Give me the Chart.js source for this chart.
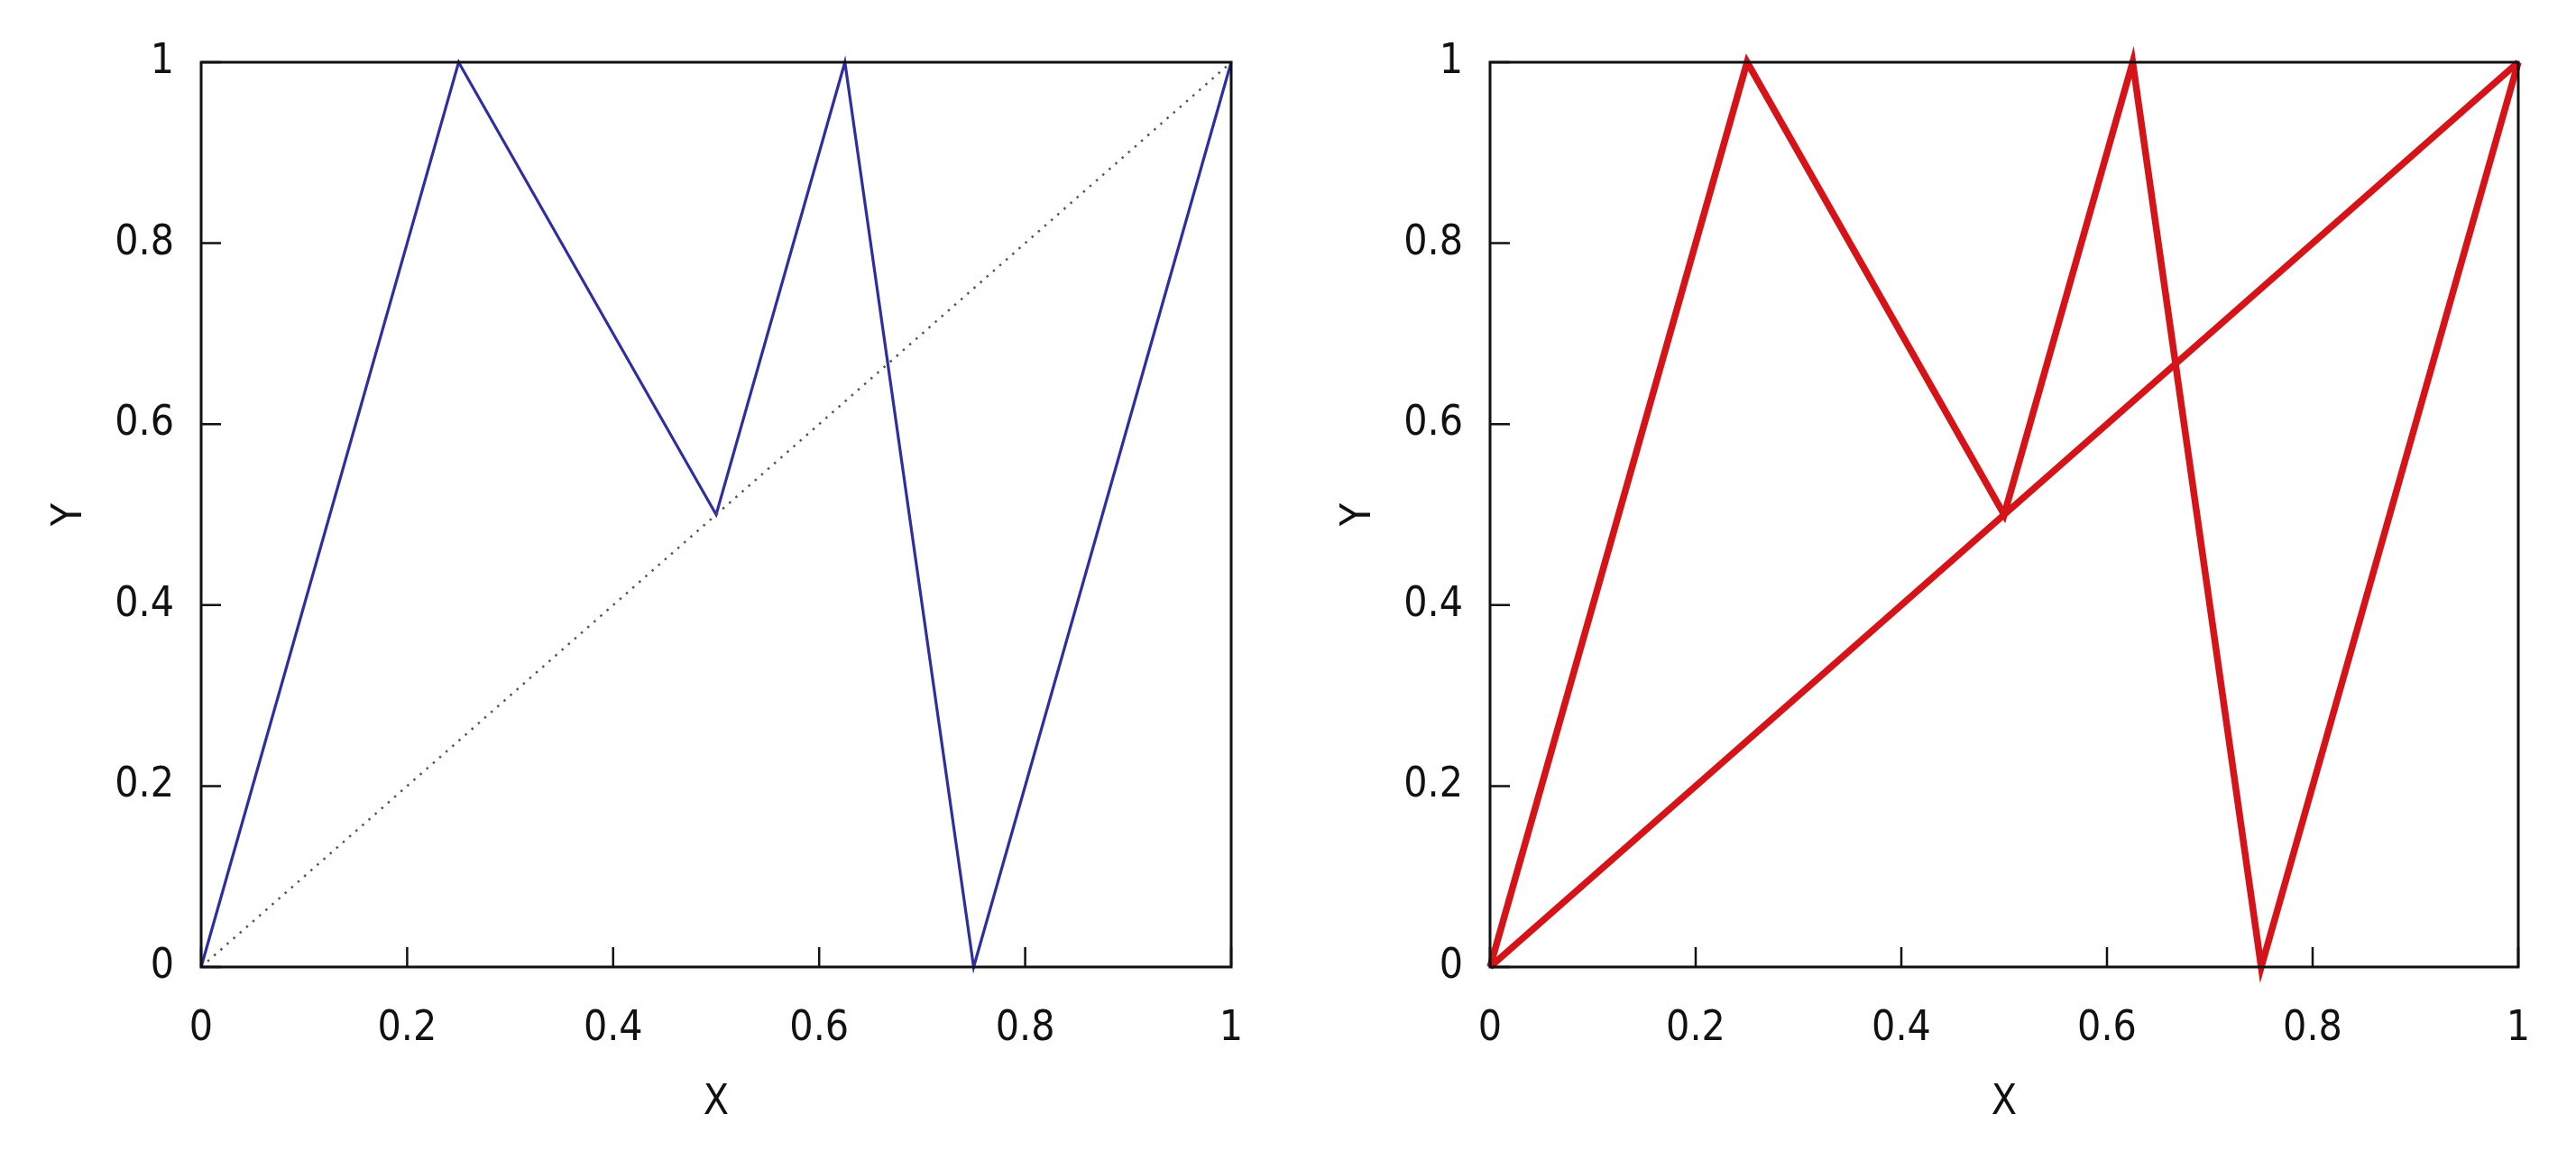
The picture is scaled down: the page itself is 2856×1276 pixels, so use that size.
<!DOCTYPE html>
<html>
<head>
<meta charset="utf-8">
<script src="https://cdn.jsdelivr.net/npm/chart.js@4.4.1/dist/chart.umd.min.js"></script>
<style>
  html, body { margin: 0; padding: 0; background: #fff; }
  .panel { position: absolute; top: 0; width: 1428px; height: 1276px; }
  #left { left: 0; }
  #right { left: 1428px; }
</style>
</head>
<body>
<div class="panel" id="left"><canvas id="chartLeft"></canvas></div>
<div class="panel" id="right"><canvas id="chartRight"></canvas></div>
<script>
// the map and the identity diagonal
const pathX = [0, 0.25, 0.5, 0.625, 0.75, 1];
const pathY = [0, 1, 0.5, 1, 0, 1];
const diagX = [0, 1];
const diagY = [0, 1];
const tickValues = [0, 0.2, 0.4, 0.6, 0.8, 1];
const tickLabels = ['0', '0.2', '0.4', '0.6', '0.8', '1'];

const FONT = "'Liberation Sans Narrow', 'DejaVu Sans Condensed', sans-serif";

function toPoints(xs, ys) {
    return xs.map((x, i) => ({ x: x, y: ys[i] }));
}

// Frame box plus inward ticks on the bottom and left axes (gnuplot look)
const framePlugin = {
    id: 'frame',
    afterDatasetsDraw(chart) {
        const ctx = chart.ctx;
        const a = chart.chartArea;
        const xs = chart.scales.x;
        const ys = chart.scales.y;
        ctx.save();
        ctx.strokeStyle = '#111';
        ctx.lineWidth = 3;
        ctx.strokeRect(a.left, a.top, a.right - a.left, a.bottom - a.top);
        ctx.lineWidth = 2.5;
        ctx.beginPath();
        tickValues.forEach(v => {
            const px = xs.getPixelForValue(v);
            ctx.moveTo(px, a.bottom);
            ctx.lineTo(px, a.bottom - 22);
            const py = ys.getPixelForValue(v);
            ctx.moveTo(a.left, py);
            ctx.lineTo(a.left + 22, py);
        });
        ctx.stroke();
        ctx.restore();
    }
};

function axisOptions(titleText, isX) {
    return {
        type: 'linear',
        min: 0,
        max: 1,
        afterBuildTicks: (scale) => { scale.ticks = tickValues.map(v => ({ value: v })); },
        afterFit: (scale) => {
            if (isX) scale.height = 204; else scale.width = 223;
        },
        grid: { display: false },
        border: { display: false },
        ticks: {
            color: '#111',
            font: { family: FONT, size: 46 },
            padding: isX ? 33 : 22,
            maxRotation: 0,
            autoSkip: false,
            callback: (value) => tickLabels[tickValues.indexOf(value)]
        },
        title: {
            display: true,
            text: titleText,
            color: '#111',
            font: { family: FONT, size: 46 },
            padding: isX ? { top: 0, bottom: 25 } : { top: 50, bottom: 0 }
        }
    };
}

function makeChart(id, datasets, padLeft, padRight) {
    return new Chart(document.getElementById(id), {
        type: 'scatter',
        data: { datasets: datasets },
        options: {
            responsive: true,
            maintainAspectRatio: false,
            animation: false,
            layout: { padding: { top: 69, left: padLeft, right: padRight, bottom: 0 } },
            plugins: {
                legend: { display: false },
                tooltip: { enabled: false }
            },
            elements: { point: { radius: 0 } },
            scales: {
                x: axisOptions('X', true),
                y: axisOptions('Y', false)
            }
        },
        plugins: [framePlugin]
    });
}

makeChart('chartLeft', [
    {
        data: toPoints(diagX, diagY),
        showLine: true,
        borderColor: '#555',
        borderWidth: 2.5,
        borderDash: [2.5, 7],
        clip: false
    },
    {
        data: toPoints(pathX, pathY),
        showLine: true,
        borderColor: '#2e2ea0',
        borderWidth: 3.2,
        clip: false
    }
], 0, 63);

makeChart('chartRight', [
    {
        data: toPoints(diagX, diagY),
        showLine: true,
        borderColor: '#d41418',
        borderWidth: 7.5,
        clip: false
    },
    {
        data: toPoints(pathX, pathY),
        showLine: true,
        borderColor: '#d41418',
        borderWidth: 7.5,
        borderJoinStyle: 'miter',
        clip: false
    }
], 1, 64);
</script>
</body>
</html>
